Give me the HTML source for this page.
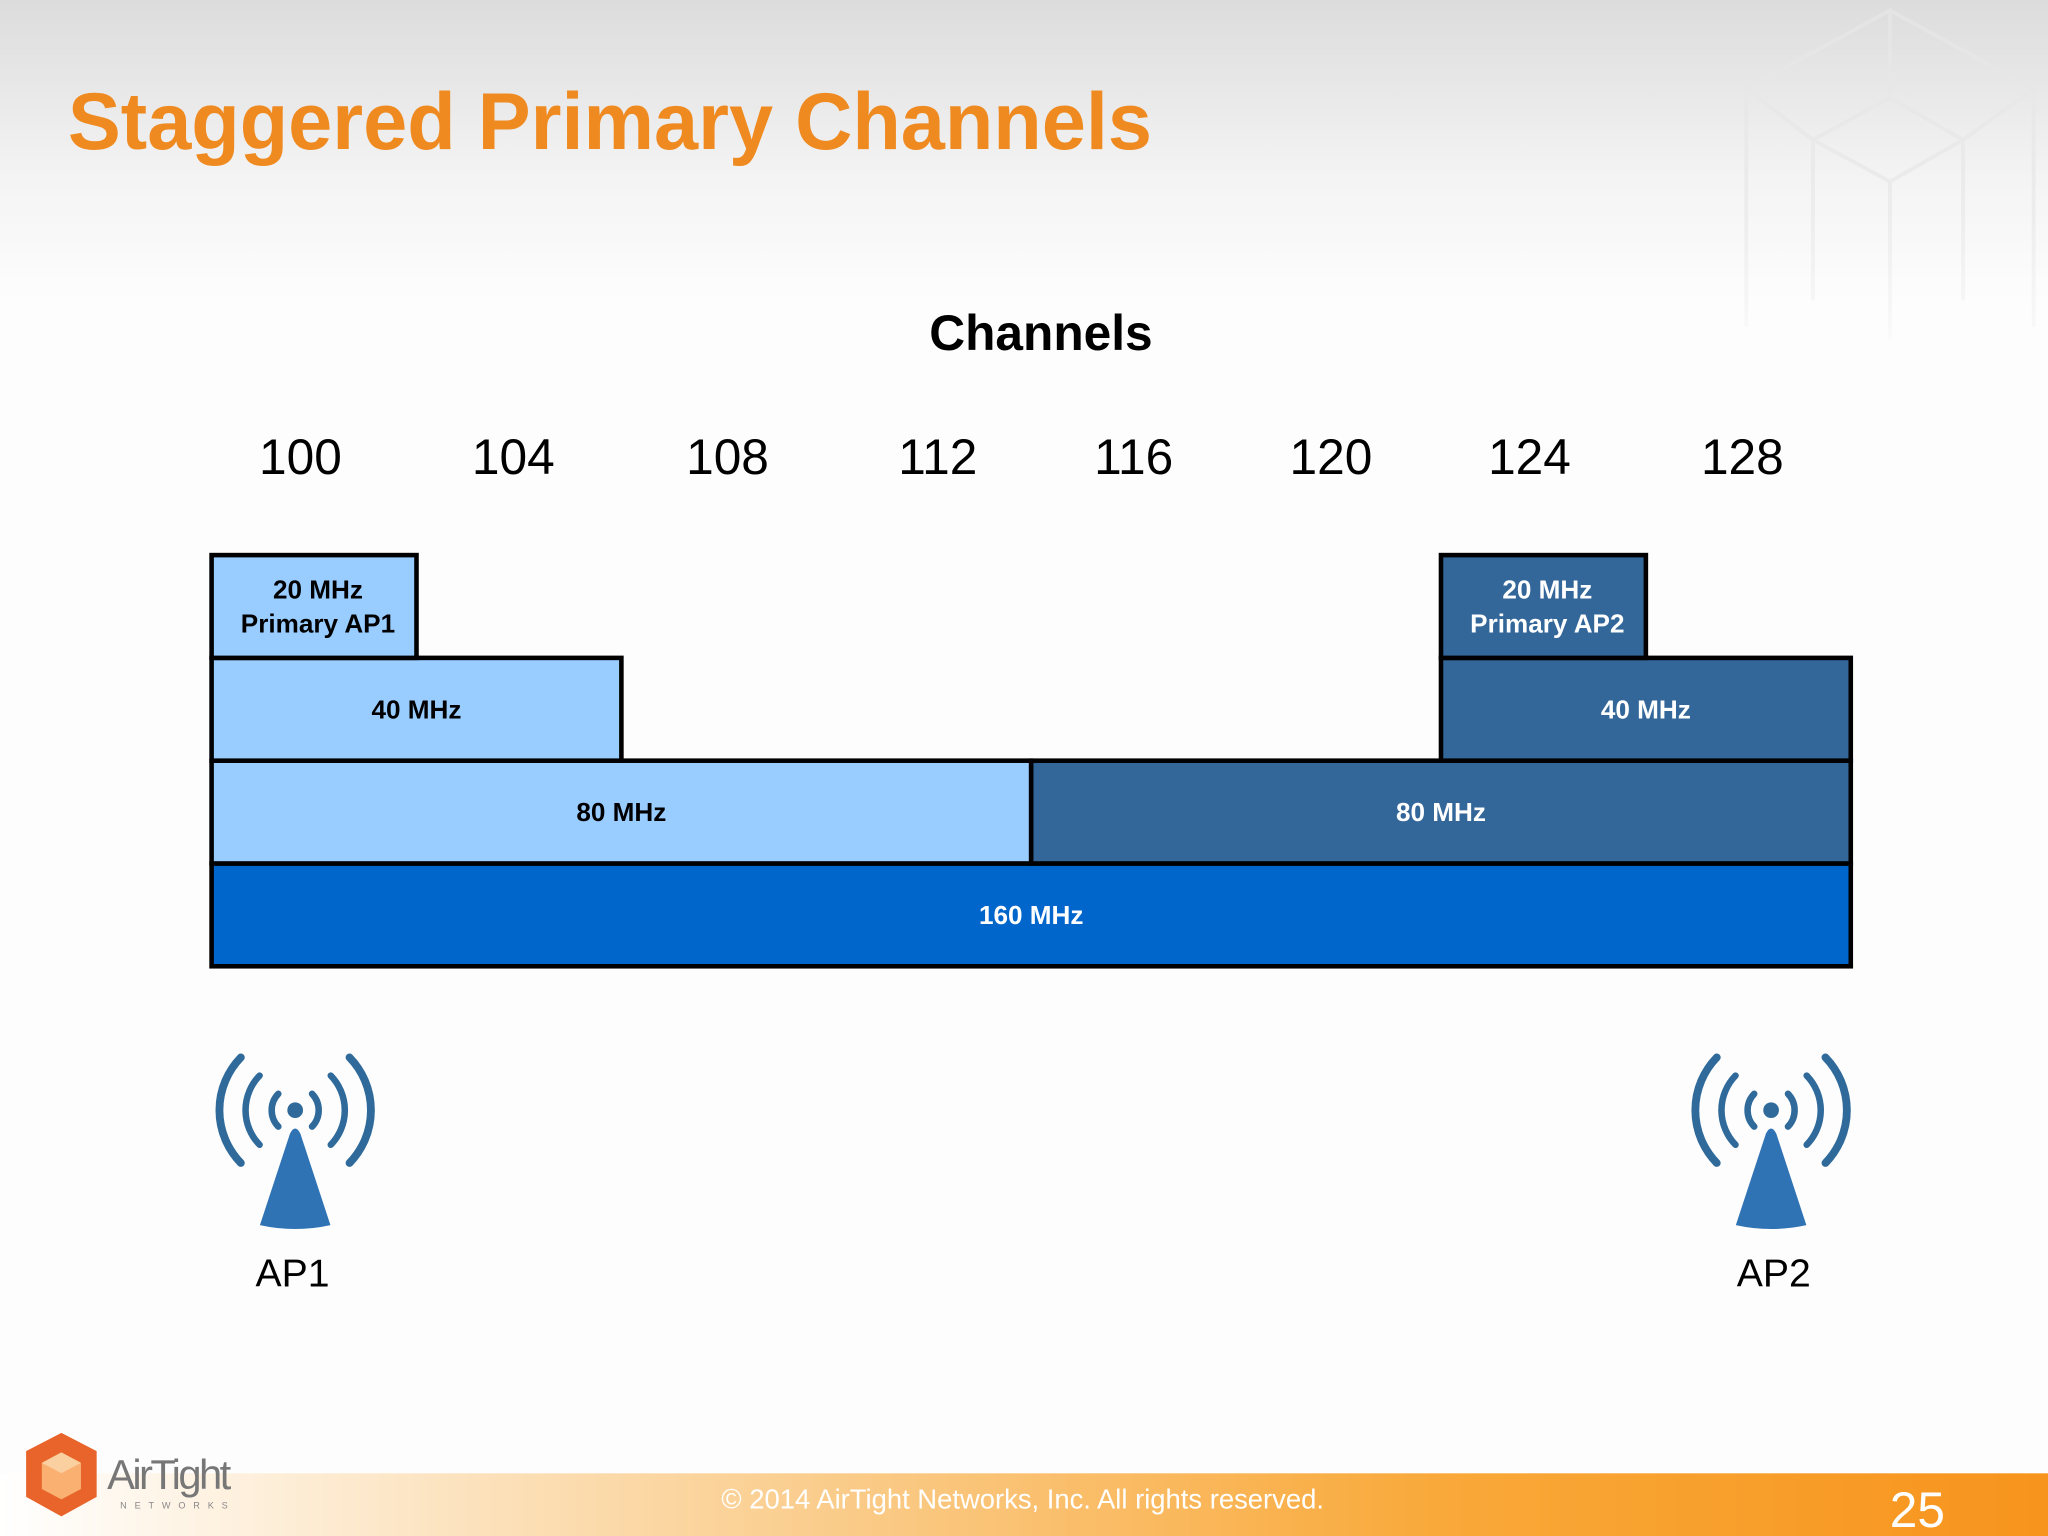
<!DOCTYPE html>
<html><head><meta charset="utf-8"><style>
html,body{margin:0;padding:0;width:2048px;height:1536px;overflow:hidden;background:#fff}
svg{display:block;font-family:"Liberation Sans",sans-serif}
</style></head><body>
<svg id="chart" width="2048" height="1536" viewBox="0 0 1568 1176" xmlns="http://www.w3.org/2000/svg">
<defs>
<linearGradient id="bgTop" x1="0" y1="0" x2="0" y2="1">
<stop offset="0" stop-color="#dcdcdc"/><stop offset="0.6" stop-color="#f4f4f4"/><stop offset="1" stop-color="#fdfdfd"/>
</linearGradient>
<linearGradient id="foot" x1="0" y1="0" x2="1" y2="0">
<stop offset="0" stop-color="#ffffff"/><stop offset="0.3" stop-color="#fbd9a8"/><stop offset="0.7" stop-color="#f9a93a"/><stop offset="1" stop-color="#f7941d"/>
</linearGradient>
<linearGradient id="cubeFade" x1="0" y1="0" x2="0" y2="1">
<stop offset="0" stop-color="#e4e4e4"/><stop offset="0.6" stop-color="#ececec"/><stop offset="1" stop-color="#fafafa"/>
</linearGradient>
</defs>
<rect x="0" y="0" width="1568" height="1176" fill="#fdfdfd"/>
<rect x="0" y="0" width="1568" height="230" fill="url(#bgTop)"/>
<g stroke="url(#cubeFade)" stroke-width="3" fill="none">
<path d="M1447 8 L1337 68 L1388 107 L1447 75 L1503 107 L1557 68 Z M1447 8 L1447 75 M1388 107 L1447 139 L1503 107 M1337 68 L1337 250 M1557 68 L1557 250 M1388 107 L1388 230 M1503 107 L1503 230 M1447 139 L1447 260"/>
</g>
<text x="52" y="114" font-size="62" font-weight="bold" fill="#ef8a20" textLength="830" lengthAdjust="spacingAndGlyphs">Staggered Primary Channels</text>
<text x="797" y="268" font-size="38" font-weight="bold" text-anchor="middle" fill="#000">Channels</text>
<g id="ticks"></g>
<g id="bars"></g>
<g id="aps"></g>
<rect x="0" y="1128" width="1568" height="48" fill="url(#foot)"/>
<g>
<polygon points="47,1097 74,1111 74,1146 47,1161 20,1146 20,1111" fill="#e8642a"/>
<polygon points="47,1112 62,1120 62,1140 47,1148 32,1140 32,1120" fill="#f9b070"/>
<polygon points="47,1112 62,1120 47,1128 32,1120" fill="#fbd0a0"/>
<text x="82" y="1140" font-size="32" fill="#777" letter-spacing="-2">AirTight</text>
<text x="92" y="1155" font-size="7" fill="#888" letter-spacing="6">NETWORKS</text>
</g>
<text x="783" y="1155" font-size="21" fill="#fff" text-anchor="middle">© 2014 AirTight Networks, Inc. All rights reserved.</text>
<text x="1468" y="1169" font-size="38" fill="#fff" text-anchor="middle">25</text>
</svg>
<script>
const channels = ["100","104","108","112","116","120","124","128"];
const tickCenters = [230,393,557,718,868,1019,1171,1334];
const segLabels = ["20 MHz|Primary AP1","40 MHz","80 MHz","160 MHz","20 MHz|Primary AP2","40 MHz","80 MHz"];
const segStart = [0,0,0,0,6,6,4];
const segSpan = [1,2,4,8,1,2,4];
const segRow = [0,1,2,3,0,1,2];
const segAP = [1,1,1,0,2,2,2];
const apNames = ["AP1","AP2"];
const apChannel = [0,7];

const NS="http://www.w3.org/2000/svg";
const x0=162, x1=1417, rowTop=425, rowH=78.7;
const xs = c => x0 + (x1-x0)*c/channels.length;
const ys = r => rowTop + r*rowH;
const fills = ["#0066cc","#99ccff","#336699"];
function mk(tag,attrs,parent){const e=document.createElementNS(NS,tag);for(const k in attrs)e.setAttribute(k,attrs[k]);parent.appendChild(e);return e;}

const tg=document.getElementById('ticks');
channels.forEach((c,i)=>{
  const t=mk('text',{x:tickCenters[i],y:363,'font-size':38,'text-anchor':'middle',fill:'#000'},tg);
  
  
  t.textContent=c;
});

const bg=document.getElementById('bars');
const order=segLabels.map((_,i)=>i).sort((a,b)=>segRow[b]-segRow[a]);
order.forEach(i=>{
  const g=mk('g',{},bg);
  
  
  const xa=xs(segStart[i]), xb=xs(segStart[i]+segSpan[i]), ya=ys(segRow[i]);
  mk('rect',{x:xa,y:ya,width:xb-xa,height:rowH,fill:fills[segAP[i]],stroke:'#000','stroke-width':3.5},g);
  const lines=segLabels[i].split('|');
  const col = segAP[i]===1 ? '#000' : '#fff';
  const cx=(xa+xb)/2+(lines.length>1?3:0), cy=ya+rowH/2;
  lines.forEach((l,k)=>{
    const t=mk('text',{x:cx,y:cy+7+(k-(lines.length-1)/2)*26,'font-size':20,'font-weight':'bold','text-anchor':'middle',fill:col},g);
    t.textContent=l;
  });
});

const ag=document.getElementById('aps');
apNames.forEach((n,i)=>{
  const cx = tickCenters[apChannel[i]] + (i===0?-4:22);
  const g=mk('g',{},ag);
  
  
  mk('circle',{cx:cx,cy:850,r:6,fill:'#2f6a9a'},g);
  [18,38,58].forEach((r,k)=>{
    const w=[5,5,6][k];
    const a=0.8;
    const dx=r*Math.sin(a), dy=r*Math.cos(a);
    mk('path',{d:`M${cx-dx} ${850-dy} A${r} ${r} 0 0 0 ${cx-dx} ${850+dy}`,stroke:'#2f6a9a','stroke-width':w,fill:'none','stroke-linecap':'round'},g);
    mk('path',{d:`M${cx+dx} ${850-dy} A${r} ${r} 0 0 1 ${cx+dx} ${850+dy}`,stroke:'#2f6a9a','stroke-width':w,fill:'none','stroke-linecap':'round'},g);
  });
  mk('path',{d:`M${cx-27} 938 L${cx-4} 868 Q${cx} 860 ${cx+4} 868 L${cx+27} 938 Q${cx} 944 ${cx-27} 938 Z`,fill:'#2f73b5'},g);
  const t=mk('text',{x:cx+(i===0?-2:2),y:985,'font-size':30,'text-anchor':'middle',fill:'#000'},ag);
  
  
  t.textContent=n;
});
</script>
</body></html>
